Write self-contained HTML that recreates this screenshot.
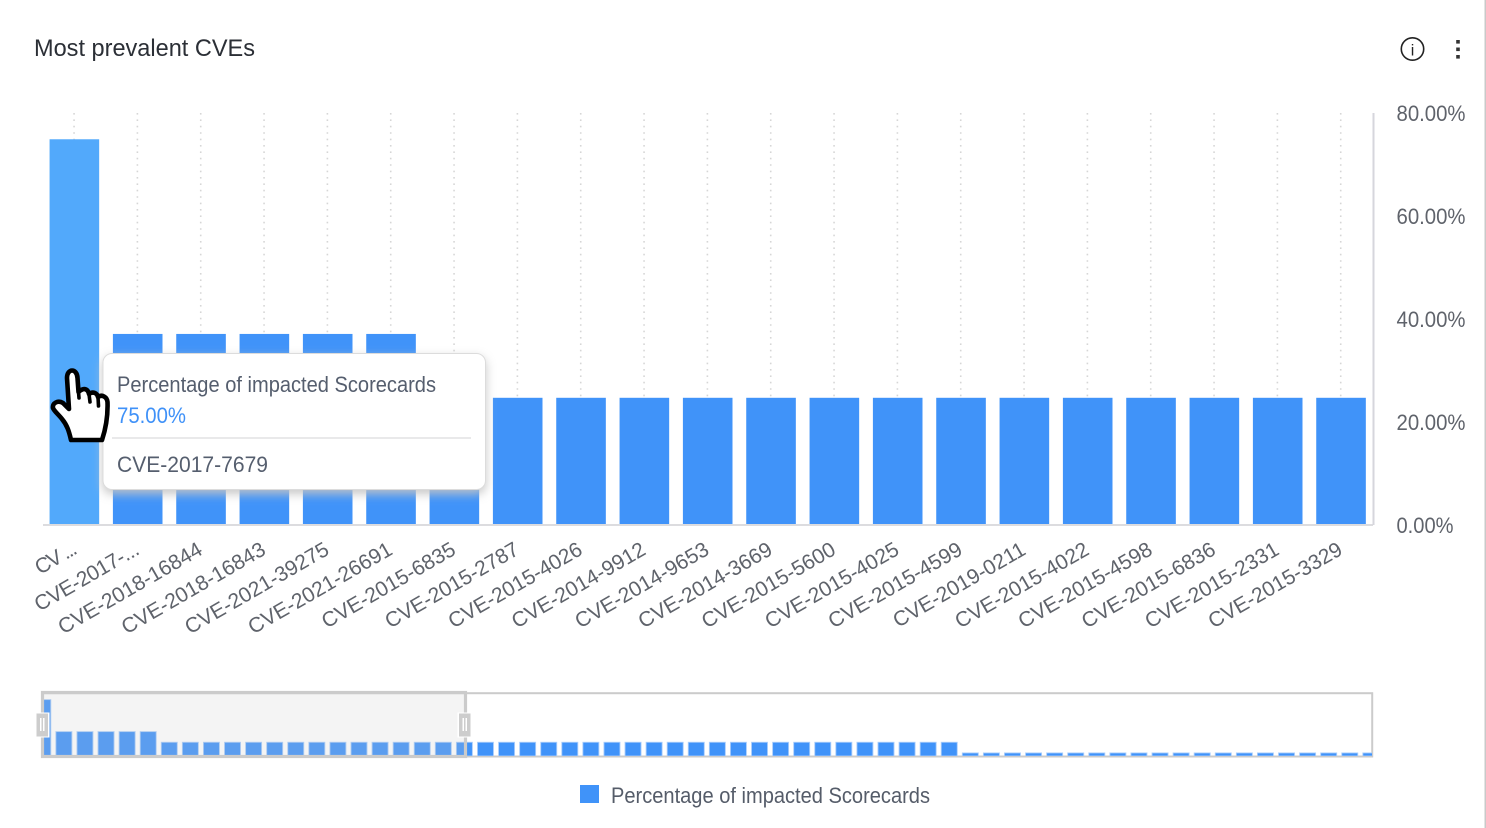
<!DOCTYPE html>
<html lang="en">
<head>
<meta charset="utf-8">
<title>Most prevalent CVEs</title>
<style>
html,body{margin:0;padding:0;background:#fff;width:1486px;height:828px;overflow:hidden}
svg{display:block;font-family:"Liberation Sans",sans-serif}
</style>
</head>
<body>
<svg id="chart" xmlns="http://www.w3.org/2000/svg" width="1486" height="828" viewBox="0 0 1486 828">
  <defs>
    <filter id="tipShadow" x="-10%" y="-15%" width="120%" height="135%">
      <feDropShadow dx="0" dy="4" stdDeviation="5" flood-color="#c4c4c4" flood-opacity="0.95"/>
    </filter>
    <clipPath id="miniClip"><rect x="44" y="692" width="1328" height="64"/></clipPath>
  </defs>
  <rect x="1484.5" y="0" width="1.5" height="828" fill="#c9c9c9"/>
  <text x="34" y="56" font-size="24" fill="#2b2f36" textLength="221" lengthAdjust="spacingAndGlyphs">Most prevalent CVEs</text>
  <g>
    <circle cx="1412.5" cy="49" r="11.2" fill="none" stroke="#222" stroke-width="1.6"/>
    <text x="1412.5" y="55.5" font-size="16" fill="#222" text-anchor="middle">i</text>
  </g>
  <g fill="#333">
    <rect x="1456.2" y="40" width="3.6" height="3.6"/>
    <rect x="1456.2" y="47.5" width="3.6" height="3.6"/>
    <rect x="1456.2" y="55" width="3.6" height="3.6"/>
  </g>
  <g id="gridLayer"></g>
  <g id="barLayer"></g>
  <line x1="43" y1="525" x2="1373" y2="525" stroke="#dcdcdf" stroke-width="2"/>
  <line x1="1373.5" y1="113" x2="1373.5" y2="525" stroke="#d6d6dc" stroke-width="2"/>
  <g id="yLabels"></g>
  <g id="xLabels"></g>

  <g>
    <rect x="42.5" y="693.2" width="1329.7" height="63.3" fill="#fff" stroke="#cbcbcb" stroke-width="2"/>
    <g id="miniLayer" clip-path="url(#miniClip)"></g>
    <rect x="42.5" y="692.5" width="423" height="64" fill="rgb(200,200,200)" fill-opacity="0.2" stroke="#cbcbcb" stroke-width="3.2"/>
    <g>
      <rect x="35.5" y="712.5" width="14" height="25" fill="#fff"/>
      <rect x="36.5" y="713.5" width="11.5" height="23" fill="#cdcdcd"/>
      <rect x="40" y="718" width="1.5" height="13" fill="#fff"/>
      <rect x="43" y="718" width="1.5" height="13" fill="#fff"/>
    </g>
    <g>
      <rect x="457.5" y="712.5" width="14" height="25" fill="#fff"/>
      <rect x="459" y="713.5" width="11.5" height="23" fill="#cdcdcd"/>
      <rect x="462.5" y="718" width="1.5" height="13" fill="#fff"/>
      <rect x="465.5" y="718" width="1.5" height="13" fill="#fff"/>
    </g>
  </g>

  <g>
    <rect x="580" y="785" width="19" height="18" fill="#4093f9"/>
    <text x="611" y="803" font-size="22" fill="#555c69" textLength="319" lengthAdjust="spacingAndGlyphs">Percentage of impacted Scorecards</text>
  </g>

  <g>
    <rect x="103" y="353.5" width="382.5" height="136" rx="9" ry="9" fill="#fff" stroke="#dcdcdc" stroke-width="1" filter="url(#tipShadow)"/>
    <text x="117" y="392" font-size="22" fill="#555e6e" textLength="319" lengthAdjust="spacingAndGlyphs">Percentage of impacted Scorecards</text>
    <text x="117" y="423" font-size="22" fill="#3f91f8" textLength="69" lengthAdjust="spacingAndGlyphs">75.00%</text>
    <line x1="112" y1="438" x2="471" y2="438" stroke="#e2e2e4" stroke-width="1.6"/>
    <text x="117" y="472" font-size="22" fill="#555e6e" textLength="151" lengthAdjust="spacingAndGlyphs">CVE-2017-7679</text>
  </g>

  <g fill="#fff" stroke="#000" stroke-width="4.6" stroke-linejoin="round" stroke-linecap="round">
    <path d="M71 440 C69 431 67 425 62 419 C58 414 54 411 53 408 C52 403 58 400 63 403 L69 409 L67 378 C67 368 77 368 77.5 378 L78.5 392 C84 387 88 389 89 394 C93 391 97 393 98 397 C102 394 107 397 107.5 402 C108 416 106 428 102 440 Z"/>
    <path d="M78.5 392 L79 398 M89 394 L90 402 M98 397 L98.5 406" fill="none" stroke-width="3.6"/>
  </g>
</svg>
<script>
var tickLabels = ["CV ...","CVE-2017-...","CVE-2018-16844","CVE-2018-16843","CVE-2021-39275","CVE-2021-26691","CVE-2015-6835","CVE-2015-2787","CVE-2015-4026","CVE-2014-9912","CVE-2014-9653","CVE-2014-3669","CVE-2015-5600","CVE-2015-4025","CVE-2015-4599","CVE-2019-0211","CVE-2015-4022","CVE-2015-4598","CVE-2015-6836","CVE-2015-2331","CVE-2015-3329"];
var impactedValues = [74.9,37.1,37.1,37.1,37.1,37.1,24.7,24.7,24.7,24.7,24.7,24.7,24.7,24.7,24.7,24.7,24.7,24.7,24.7,24.7,24.7];
var yTicks = [0,20,40,60,80];
var yTickLabels = ["0.00%","20.00%","40.00%","60.00%","80.00%"];
var overviewValues = [75,37.5,37.5,37.5,37.5,37.5,25,25,25,25,25,25,25,25,25,25,25,25,25,25,25,25,25,25,25,25,25,25,25,25,25,25,25,25,25,25,25,25,25,25,25,25,25,25,12.5,12.5,12.5,12.5,12.5,12.5,12.5,12.5,12.5,12.5,12.5,12.5,12.5,12.5,12.5,12.5,12.5,12.5,12.5,12.5];
var highlightedIndex = 0;

var SVGNS = "http://www.w3.org/2000/svg";
function make(tag, attrs, parent){
  var el = document.createElementNS(SVGNS, tag);
  for (var k in attrs) el.setAttribute(k, attrs[k]);
  parent.appendChild(el);
  return el;
}
var plotLeft = 43, plotRight = 1373, plotTop = 113, plotBottom = 525;
var band = (plotRight - plotLeft) / tickLabels.length;
var barWidth = 49.6;
function xCenter(i){ return plotLeft + band * (i + 0.5); }
function yScale(v){ return plotBottom - (v / yTicks[yTicks.length - 1]) * (plotBottom - plotTop); }

var miniLeft = 42.8, miniStep = 21.08, miniBottom = 756, miniWidth = 16;
var miniDomainMin = 8.9, miniPxPerUnit = 0.853;
function miniHeight(v){ return (v - miniDomainMin) * miniPxPerUnit; }

var gridLayer = document.getElementById("gridLayer");
var barLayer = document.getElementById("barLayer");
var xLabels = document.getElementById("xLabels");
var yLabels = document.getElementById("yLabels");
var miniLayer = document.getElementById("miniLayer");

tickLabels.forEach(function(label, i){
  var cx = xCenter(i);
  var grid = make("line", {x1: cx - 0.6, y1: plotTop, x2: cx - 0.6, y2: plotBottom, stroke: "#d6d6d6", "stroke-width": 1.6, "stroke-dasharray": "1.6 4.8"}, gridLayer);
  
  

  var top = yScale(impactedValues[i]);
  var bar = make("rect", {x: cx - barWidth / 2 - 0.3, y: top, width: barWidth, height: plotBottom - top - 0.5, fill: i === highlightedIndex ? "#52a9fb" : "#4093f9"}, barLayer);
  
  

  var ax = cx + 2.5, ay = 553.5;
  var t = make("text", {x: ax, y: ay, "font-size": 21, fill: "#5f636b", "text-anchor": "end", transform: "rotate(-30 " + ax + " " + ay + ")"}, xLabels);
  if (label.slice(-3) === "...") t.setAttribute("letter-spacing", label.length < 8 ? -1.6 : -0.4);
  t.textContent = label;
  
  
});

yTicks.forEach(function(v, i){
  var t = make("text", {x: 1396.5, y: yScale(v) + 8, "font-size": 22, fill: "#5f636b", textLength: v === 0 ? 57 : 69, lengthAdjust: "spacingAndGlyphs"}, yLabels);
  t.textContent = yTickLabels[i];
  
  
});

overviewValues.forEach(function(v, i){
  var h = miniHeight(v);
  var c = miniLeft + miniStep * i;
  var r = make("rect", {x: c - miniWidth / 2, y: miniBottom - h, width: miniWidth, height: h, fill: "#4093f9", stroke: "#a9cdfb", "stroke-width": 0.9}, miniLayer);
  
  
});
</script>
</body>
</html>
